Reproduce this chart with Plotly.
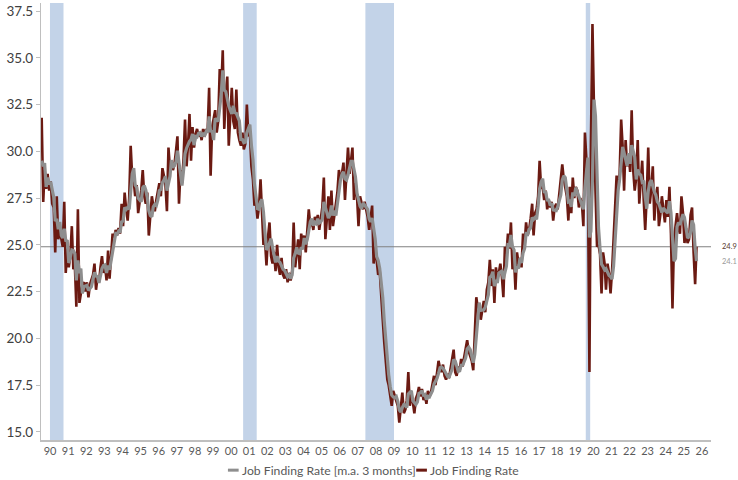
import pandas as pd
import plotly.graph_objects as go

# Monthly job finding rate (%), Jan 1990 - Mar 2026
job_finding_rate = [
    # 1990
    31.8, 27.3, 29.0, 28.0, 28.8, 27.9, 28.4, 27.2, 27.0, 24.6, 27.6, 25.3,
    # 1991
    25.8, 25.4, 24.9, 27.3, 23.5, 24.8, 23.8, 24.4, 26.0, 23.7, 23.9, 21.7,
    # 1992
    26.9, 21.9, 22.4, 22.9, 23.0, 22.5, 23.0, 22.2, 22.9, 23.2, 23.4, 24.0,
    # 1993
    22.6, 23.3, 23.0, 23.8, 24.4, 23.5, 23.9, 23.1, 24.7, 23.2, 24.6, 25.6,
    # 1994
    25.4, 25.8, 25.5, 25.9, 25.6, 27.2, 26.0, 27.8, 26.9, 26.3, 27.5, 30.3,
    # 1995
    28.6, 28.4, 27.6, 28.2, 26.7, 27.3, 27.9, 29.0, 27.6, 27.2, 27.8, 25.5,
    # 1996
    26.4, 27.6, 27.1, 26.8, 27.4, 28.0, 28.3, 27.6, 29.1, 28.7, 28.2, 26.8,
    # 1997
    30.2, 29.0, 29.4, 29.0, 29.3, 30.0, 30.8, 27.2, 29.0, 28.3, 29.6, 31.7,
    # 1998
    29.2, 30.4, 32.0, 29.5, 31.3, 30.2, 30.9, 31.2, 30.8, 31.0, 30.6, 31.2,
    # 1999
    30.8, 31.2, 31.0, 33.4, 28.7, 31.3, 31.8, 32.2, 31.0, 31.6, 34.4, 33.2,
    # 2000
    35.4, 31.2, 33.0, 34.0, 30.3, 32.3, 33.4, 31.6, 31.2, 33.3, 31.0, 30.6,
    # 2001
    30.3, 31.0, 30.1, 30.4, 32.5, 30.8, 31.0, 29.2, 28.5, 27.1, 27.3, 26.4,
    # 2002
    27.0, 28.5, 26.8, 25.0, 25.3, 23.9, 25.4, 26.2, 24.4, 24.0, 24.6, 23.6,
    # 2003
    25.0, 23.8, 23.4, 24.3, 23.4, 23.2, 23.7, 23.0, 23.5, 23.1, 23.6, 26.2,
    # 2004
    23.8, 24.6, 25.3, 23.7, 25.6, 25.0, 25.5, 24.6, 25.8, 26.9, 26.0, 26.3,
    # 2005
    25.8, 26.5, 26.1, 26.6, 25.8, 26.3, 27.0, 28.6, 25.3, 26.4, 27.6, 25.8,
    # 2006
    27.9, 26.0, 26.6, 27.1, 27.8, 29.0, 28.5, 28.8, 29.4, 27.4, 28.6, 30.2,
    # 2007
    28.8, 29.4, 30.2, 27.4, 28.3, 27.6, 26.0, 27.6, 27.2, 26.9, 27.3, 26.9,
    # 2008
    26.5, 25.8, 26.4, 27.1, 24.0, 24.9, 24.2, 23.4, 23.6, 22.0, 21.0, 19.8,
    # 2009
    18.9, 17.8, 17.5, 17.0, 16.4, 17.2, 16.9, 16.6, 16.4, 15.5, 16.3, 17.1,
    # 2010
    16.0, 16.2, 16.7, 18.2, 16.4, 17.0, 16.6, 16.0, 16.8, 17.0, 17.4, 16.9,
    # 2011
    17.3, 16.7, 17.0, 16.5, 17.2, 16.9, 17.1, 17.6, 18.0, 17.5, 18.1, 18.8,
    # 2012
    18.4, 18.2, 18.6, 18.0, 17.8, 18.1, 17.9, 18.4, 18.8, 19.4, 18.2, 18.0,
    # 2013
    18.5, 18.3, 18.9, 18.5, 19.0, 19.4, 19.9, 19.3, 19.0, 18.8, 18.3, 20.3,
    # 2014
    22.2, 21.6, 21.9, 21.0, 21.6, 22.0, 21.4, 22.6, 23.0, 24.2, 22.8, 23.7,
    # 2015
    21.9, 23.8, 23.2, 23.5, 24.0, 23.3, 22.2, 24.9, 24.5, 25.6, 24.8, 26.2,
    # 2016
    23.7, 24.3, 22.6, 24.6, 24.0, 24.3, 23.8, 25.6, 25.0, 26.2, 25.5, 25.8,
    # 2017
    26.4, 27.2, 25.5, 26.7, 26.9, 27.6, 29.5, 28.0, 28.1, 27.4, 27.9, 26.9,
    # 2018
    27.4, 27.0, 27.3, 26.3, 27.0, 27.2, 26.9, 27.8, 28.3, 29.3, 28.5, 28.0,
    # 2019
    27.6, 26.3, 28.1, 26.7, 28.6, 27.5, 28.1, 27.9, 27.0, 27.5, 27.2, 26.0,
    # 2020
    31.0, 29.5, 28.5, 18.2, 30.5, 36.8, 31.0, 27.9, 24.9, 25.0, 24.5, 22.4,
    # 2021
    24.6, 24.0, 22.6, 24.0, 23.5, 22.4, 23.6, 25.6, 27.0, 28.7, 28.0, 28.8,
    # 2022
    31.7, 30.2, 27.9, 30.6, 29.2, 29.9, 28.9, 32.2, 29.0, 27.9, 28.6, 30.6,
    # 2023
    27.2, 28.4, 29.5, 27.4, 25.8, 27.6, 30.2, 27.2, 28.0, 29.2, 26.3, 27.5,
    # 2024
    28.1, 26.0, 26.6, 27.6, 26.7, 26.2, 27.4, 26.5, 28.1, 25.6, 21.6, 25.2,
    # 2025
    26.0, 26.7, 25.9, 25.6, 27.6, 26.7, 25.1, 25.9, 25.1, 25.3, 26.6, 27.0,
    # 2026
    24.6, 22.9, 24.9,
]

# Nov-Dec 1989, only used to seed the 3-month average
seed_1989 = [28.2, 28.5]

# NBER recessions (start, end)
recessions = [
    ("1990-07-01", "1991-03-31"),
    ("2001-03-01", "2001-11-30"),
    ("2007-12-01", "2009-06-30"),
    ("2020-02-01", "2020-04-30"),
]

y_ticks = [15.0, 17.5, 20.0, 22.5, 25.0, 27.5, 30.0, 32.5, 35.0, 37.5]
years = list(range(1990, 2027))
year_labels = [f"{y % 100:02d}" for y in years]

NAME_RAW = "Job Finding Rate"
NAME_MA = "Job Finding Rate [m.a. 3 months]"

RED = "#6B1A12"
GREY = "#8E8E8E"
BAR = "#C3D3E8"
AXIS = "#BFBFBF"
FONT = "Lato"

months = pd.date_range("1990-01-01", periods=len(job_finding_rate), freq="MS") + pd.Timedelta(days=14)
raw = pd.Series(job_finding_rate, index=months)
ma3 = pd.Series(seed_1989 + job_finding_rate).rolling(3).mean().iloc[len(seed_1989):]
ma3.index = months

last_raw = raw.iloc[-1]
last_ma = ma3.iloc[-1]

fig = go.Figure()

fig.add_trace(go.Scatter(
    x=months, y=raw.values, mode="lines", name=NAME_RAW,
    line=dict(color=RED, width=2.6), showlegend=False,
))
fig.add_trace(go.Scatter(
    x=months, y=ma3.values, mode="lines", name=NAME_MA,
    line=dict(color=GREY, width=3.2), showlegend=False,
))

shapes = []
for start, end in recessions:
    shapes.append(dict(
        type="rect", xref="x", yref="y domain", x0=start, x1=end, y0=0, y1=1,
        fillcolor=BAR, line=dict(width=0), layer="below",
    ))
# reference line at the latest reading
shapes.append(dict(
    type="line", xref="paper", yref="y", x0=0, x1=1, y0=last_raw, y1=last_raw,
    line=dict(color="#808080", width=1.2), layer="below",
))

annotations = [
    dict(xref="paper", yref="y", x=1, y=last_raw, xanchor="left", yanchor="middle",
         xshift=9, text=f"{last_raw:.1f}", showarrow=False,
         font=dict(family=FONT, size=7.5, color="#5A3A2E")),
    dict(xref="paper", yref="y", x=1, y=last_ma, xanchor="left", yanchor="middle",
         xshift=9, text=f"{last_ma:.1f}", showarrow=False,
         font=dict(family=FONT, size=7.5, color="#9A9A9A")),
]

# compact legend below the axis: short line swatch followed by the series name
LEG_Y = -0.069
legend_items = [(GREY, NAME_MA, 0.279), (RED, NAME_RAW, 0.560)]
for color, label, x0 in legend_items:
    shapes.append(dict(
        type="line", xref="paper", yref="paper", x0=x0, x1=x0 + 0.016,
        y0=LEG_Y, y1=LEG_Y, line=dict(color=color, width=3),
    ))
    annotations.append(dict(
        xref="paper", yref="paper", x=x0 + 0.018, y=LEG_Y,
        xanchor="left", yanchor="middle", text=label, showarrow=False,
        font=dict(family=FONT, size=12.2, color="#595959"),
    ))

fig.update_layout(
    width=738, height=480,
    margin=dict(l=41, r=27, t=3, b=40, autoexpand=False),
    paper_bgcolor="white", plot_bgcolor="white",
    font=dict(family=FONT, color="#595959"),
    shapes=shapes, annotations=annotations,
    showlegend=False,
)

fig.update_xaxes(
    type="date", range=["1990-01-01", "2027-01-01"],
    tickvals=[f"{y}-07-02" for y in years], ticktext=year_labels,
    showline=True, linecolor=AXIS, linewidth=1.5, ticks="",
    showgrid=False, zeroline=False,
    tickfont=dict(family=FONT, size=11, color="#595959"),
)
fig.update_yaxes(
    range=[14.57, 37.93],
    tickvals=y_ticks, ticktext=[f"{v:.1f}" for v in y_ticks],
    showline=True, linecolor=AXIS, linewidth=1.2,
    ticks="outside", ticklen=4, tickcolor=AXIS,
    showgrid=False, zeroline=False,
    tickfont=dict(family=FONT, size=13.5, color="#404040"),
)

fig.write_html("out.html")
